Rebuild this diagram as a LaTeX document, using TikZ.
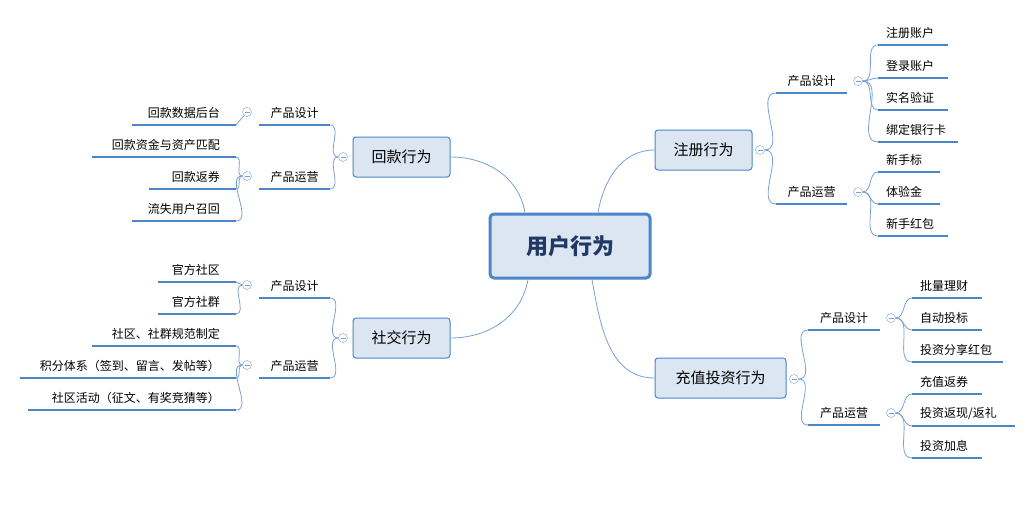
\documentclass[tikz,border=0pt]{standalone}
\usepackage{fontspec}
\setmainfont{Noto Sans CJK SC}
\usetikzlibrary{calc}
\definecolor{mmline}{RGB}{74,134,200}
\definecolor{mmlink}{RGB}{120,160,215}
\definecolor{mmfill}{RGB}{220,230,242}
\definecolor{mmtext}{RGB}{31,56,100}
\tikzset{
  rootbox/.style={draw=mmline,line width=3pt,fill=mmfill,rounded corners=4pt,
    minimum width=160pt,minimum height=64pt,font=\fontsize{22}{24}\selectfont\bfseries,text=mmtext},
  topicbox/.style={draw=mmline,line width=1pt,fill=mmfill,rounded corners=3pt,
    minimum height=40pt,font=\fontsize{15}{17}\selectfont},
  fold/.style={draw=mmlink,fill=white,circle,inner sep=0pt,minimum size=9pt,
    path picture={\draw[mmlink,line width=0.6pt] ([xshift=-2.5pt]path picture bounding box.center)--([xshift=2.5pt]path picture bounding box.center);}},
  uline/.style={draw=mmline,line width=2pt},
  link/.style={draw=mmlink,line width=0.8pt},
  ltext/.style={font=\fontsize{12}{14}\selectfont,inner sep=1pt}
}
% underlined label: name, left x, right x, underline y, text
\newcommand\mleaf[5]{%
  \coordinate (#1-l) at (#2,#4);
  \coordinate (#1-r) at (#3,#4);
  \draw[uline] (#1-l) -- (#1-r);
  \node[ltext] (#1) at ($(#1-l)!0.5!(#1-r)+(0,-12)$) {#5};
}
% same, text set from the left end (right side of the map)
\newcommand\rleaf[5]{%
  \coordinate (#1-l) at (#2,#4);
  \coordinate (#1-r) at (#3,#4);
  \draw[uline] (#1-l) -- (#1-r);
  \node[ltext,anchor=west] (#1) at ($(#1-l)+(7,-12)$) {#5};
}
% same, text set towards the right end (left side of the map)
\newcommand\lleaf[5]{%
  \coordinate (#1-l) at (#2,#4);
  \coordinate (#1-r) at (#3,#4);
  \draw[uline] (#1-l) -- (#1-r);
  \node[ltext,anchor=east] (#1) at ($(#1-r)+(-15,-12)$) {#5};
}
\begin{document}
\begin{tikzpicture}[x=1pt,y=-1pt]
    \useasboundingbox (0,0) rectangle (1031,527);
    \node[rootbox] (root) at (570,246) {用户行为};
    \node[topicbox,minimum width=97pt] (reg) at (703.5,150) {注册行为};
    \node[topicbox,minimum width=97pt] (back) at (401.5,157) {回款行为};
    \node[topicbox,minimum width=97pt] (soc) at (401.5,338) {社交行为};
    \node[topicbox,minimum width=131pt] (inv) at (720.5,378) {充值投资行为};
    \draw[link] ([xshift=-45pt]root.north) to[out=100,in=0] (back.east);
    \draw[link] ([xshift=28pt]root.north) to[out=80,in=180] (reg.west);
    \draw[link] ([xshift=-42pt]root.south) to[out=-100,in=0] (soc.east);
    \draw[link] ([xshift=22pt]root.south) to[out=-80,in=180] (inv.west);
    % 注册行为
    \node[fold] (f-reg) at (760,150) {};
    \mleaf{rd}{776}{847}{93}{产品设计}
    \mleaf{ro}{776}{847}{204}{产品运营}
    \node[fold] (f-rd) at (858,81) {};
    \node[fold] (f-ro) at (858,192) {};
    \draw[link] (f-reg) to[out=0,in=180] (rd-l);
    \draw[link] (f-reg) to[out=0,in=180] (ro-l);
    \rleaf{rd1}{878}{948}{45}{注册账户}
    \rleaf{rd2}{878}{948}{78}{登录账户}
    \rleaf{rd3}{878}{948}{110}{实名验证}
    \rleaf{rd4}{878}{958}{142}{绑定银行卡}
    \foreach \c in {rd1,rd2,rd3,rd4} \draw[link] (f-rd) to[out=0,in=180] (\c-l);
    \rleaf{ro1}{878}{940}{172}{新手标}
    \rleaf{ro2}{878}{940}{204}{体验金}
    \rleaf{ro3}{878}{948}{236}{新手红包}
    \foreach \c in {ro1,ro2,ro3} \draw[link] (f-ro) to[out=0,in=180] (\c-l);
    % 回款行为
    \node[fold] (f-back) at (343,157) {};
    \mleaf{bd}{259}{330}{125}{产品设计}
    \mleaf{bo}{259}{330}{189}{产品运营}
    \node[fold] (f-bd) at (247,112) {};
    \node[fold] (f-bo) at (247,176) {};
    \draw[link] (f-back) to[out=180,in=0] (bd-r);
    \draw[link] (f-back) to[out=180,in=0] (bo-r);
    \lleaf{bd1}{132}{236}{125}{回款数据后台}
    \draw[link] (f-bd) -- (bd1-r);
    \lleaf{bo1}{92}{236}{157}{回款资金与资产匹配}
    \lleaf{bo2}{149}{236}{189}{回款返券}
    \lleaf{bo3}{132}{236}{221}{流失用户召回}
    \foreach \c in {bo1,bo2,bo3} \draw[link] (f-bo) to[out=180,in=0] (\c-r);
    % 社交行为
    \node[fold] (f-soc) at (343,338) {};
    \mleaf{sd}{259}{330}{298}{产品设计}
    \mleaf{so}{259}{330}{378}{产品运营}
    \node[fold] (f-sd) at (247,285) {};
    \node[fold] (f-so) at (247,365) {};
    \draw[link] (f-soc) to[out=180,in=0] (sd-r);
    \draw[link] (f-soc) to[out=180,in=0] (so-r);
    \lleaf{sd1}{158}{236}{282}{官方社区}
    \lleaf{sd2}{158}{236}{314}{官方社群}
    \foreach \c in {sd1,sd2} \draw[link] (f-sd) to[out=180,in=0] (\c-r);
    \lleaf{so1}{92}{236}{346}{社区、社群规范制定}
    \lleaf{so2}{20}{236}{378}{积分体系（签到、留言、发帖等）}
    \lleaf{so3}{28}{236}{410}{社区活动（征文、有奖竞猜等）}
    \foreach \c in {so1,so2,so3} \draw[link] (f-so) to[out=180,in=0] (\c-r);
    % 充值投资行为
    \node[fold] (f-inv) at (794,379) {};
    \mleaf{id}{808}{880}{330}{产品设计}
    \mleaf{io}{808}{880}{425}{产品运营}
    \node[fold] (f-id) at (891,318) {};
    \node[fold] (f-io) at (891,413) {};
    \draw[link] (f-inv) to[out=0,in=180] (id-l);
    \draw[link] (f-inv) to[out=0,in=180] (io-l);
    \rleaf{id1}{912}{982}{298}{批量理财}
    \rleaf{id2}{912}{982}{330}{自动投标}
    \rleaf{id3}{912}{1003}{362}{投资分享红包}
    \foreach \c in {id1,id2,id3} \draw[link] (f-id) to[out=0,in=180] (\c-l);
    \rleaf{io1}{912}{982}{394}{充值返券}
    \rleaf{io2}{912}{1015}{426}{投资返现/返礼}
    \rleaf{io3}{912}{982}{458}{投资加息}
    \foreach \c in {io1,io2,io3} \draw[link] (f-io) to[out=0,in=180] (\c-l);
\end{tikzpicture}
\end{document}
